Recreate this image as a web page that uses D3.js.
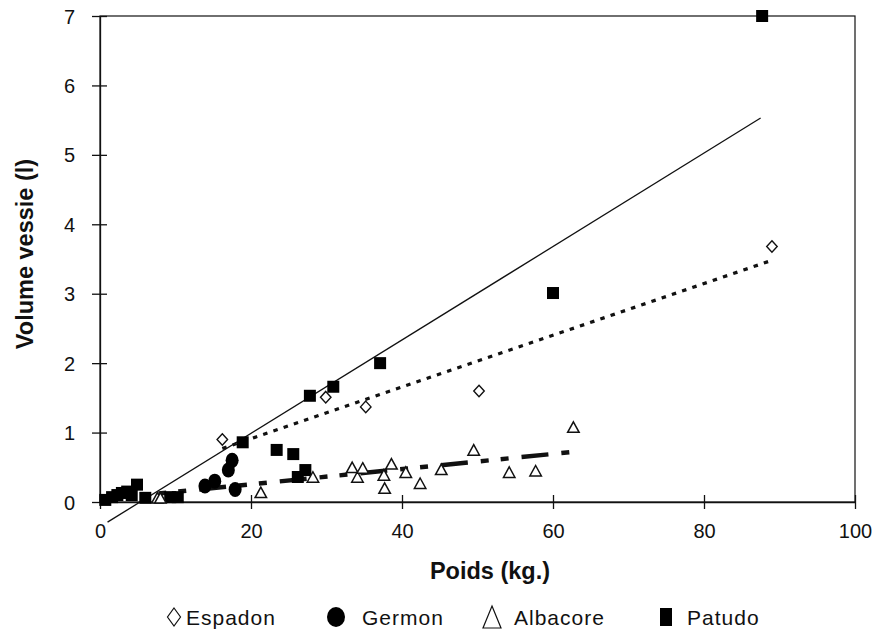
<!DOCTYPE html>
<html>
<head>
<meta charset="utf-8">
<script src="https://cdn.jsdelivr.net/npm/d3@7"></script>
<style>
  html, body { margin: 0; padding: 0; background: #fff; }
  svg { display: block; font-family: "Liberation Sans", Arial, sans-serif; }
</style>
</head>
<body>
<svg id="chart" width="878" height="633"></svg>
<script>
// ---- data ----
const xTicks = [0, 20, 40, 60, 80, 100];
const yTicks = [0, 1, 2, 3, 4, 5, 6, 7];

const espadonX = [16.2, 29.9, 35.2, 50.2, 89.0];
const espadonY = [0.90, 1.51, 1.37, 1.60, 3.68];

const germonX = [13.9, 15.2, 17.0, 17.5, 17.9];
const germonY = [0.23, 0.30, 0.46, 0.60, 0.18];

const albacoreX = [7.6, 8.0, 21.3, 28.2, 33.4, 34.1, 34.8, 37.6, 37.7, 38.6, 40.5, 42.4, 45.2, 49.5, 54.2, 57.7, 62.7];
const albacoreY = [0.06, 0.06, 0.14, 0.36, 0.50, 0.36, 0.49, 0.39, 0.20, 0.55, 0.43, 0.27, 0.47, 0.75, 0.43, 0.45, 1.08];

const patudoX = [0.7, 1.6, 2.3, 2.9, 3.6, 4.2, 4.9, 6.0, 9.3, 10.3, 18.9, 23.4, 25.6, 26.2, 27.2, 27.8, 30.9, 37.1, 60.0, 87.7];
const patudoY = [0.03, 0.07, 0.10, 0.13, 0.15, 0.10, 0.25, 0.06, 0.07, 0.07, 0.86, 0.75, 0.69, 0.36, 0.46, 1.53, 1.66, 2.00, 3.01, 7.00];

// trend lines (end points)
const espadonFitX = [16.2, 88.7];
const espadonFitY = [0.77, 3.47];
const albacoreFitX = [7.6, 62.5];
const albacoreFitY = [0.12, 0.72];
const patudoFitX = [1.0, 87.5];
const patudoFitY = [-0.29, 5.53];

const legendNames = ["Espadon", "Germon", "Albacore", "Patudo"];

// ---- layout ----
const svg = d3.select("#chart");
const L = 100, R = 855, T = 16, B = 502;
const x = d3.scaleLinear().domain([0, 100]).range([L, R]);
const y = d3.scaleLinear().domain([0, 7]).range([B, T]);
const ink = "#111";

// frame (top / right)
svg.append("rect").attr("x", L).attr("y", T).attr("width", R - L).attr("height", B - T)
  .attr("fill", "none").attr("stroke", ink).attr("stroke-width", 1.2);

// x axis
const gx = svg.append("g").attr("transform", `translate(0,${B})`)
  .call(d3.axisBottom(x).tickValues(xTicks).tickSize(0).tickFormat(d3.format("d")));
gx.select(".domain").attr("stroke", ink).attr("stroke-width", 1.3);
gx.selectAll(".tick line").remove();
gx.selectAll(".tick").append("line").attr("y1", -7).attr("y2", 7).attr("stroke", ink).attr("stroke-width", 1.3);
gx.selectAll(".tick text").attr("y", 22).attr("dy", "0.71em").attr("font-size", 20)
  .attr("fill", ink).attr("font-family", "Liberation Sans, Arial, sans-serif");

// y axis
const gy = svg.append("g").attr("transform", `translate(${L},0)`)
  .call(d3.axisLeft(y).tickValues(yTicks).tickSize(0).tickFormat(d3.format("d")));
gy.select(".domain").attr("stroke", ink).attr("stroke-width", 1.3);
gy.selectAll(".tick line").remove();
gy.selectAll(".tick").append("line").attr("x1", -8).attr("x2", 7).attr("stroke", ink).attr("stroke-width", 1.3);
gy.selectAll(".tick text").attr("x", -25).attr("dy", "0.35em").attr("font-size", 20)
  .attr("fill", ink).attr("font-family", "Liberation Sans, Arial, sans-serif");

// axis titles
svg.append("text").attr("transform", "translate(25,254) rotate(-90)")
  .attr("text-anchor", "middle").attr("dominant-baseline", "central")
  .attr("font-size", 23.5).attr("font-weight", "bold").attr("fill", ink).text("Volume vessie (l)");
svg.append("text").attr("x", 490).attr("y", 571)
  .attr("text-anchor", "middle").attr("dominant-baseline", "central")
  .attr("font-size", 23.5).attr("font-weight", "bold").attr("fill", ink).text("Poids (kg.)");

// ---- trend lines ----
const line = d3.line().x(d => x(d[0])).y(d => y(d[1]));
const pairs = (xs, ys) => xs.map((v, i) => [v, ys[i]]);

svg.append("path").datum(pairs(patudoFitX, patudoFitY)).attr("d", line)
  .attr("fill", "none").attr("stroke", ink).attr("stroke-width", 1.3);
svg.append("path").datum(pairs(espadonFitX, espadonFitY)).attr("d", line)
  .attr("fill", "none").attr("stroke", ink).attr("stroke-width", 3.2)
  .attr("stroke-dasharray", "4.5,6.3");
svg.append("path").datum(pairs(albacoreFitX, albacoreFitY)).attr("d", line)
  .attr("fill", "none").attr("stroke", ink).attr("stroke-width", 4.5)
  .attr("stroke-dasharray", "27,13,8,12,8,13").attr("stroke-dashoffset", 39);

// ---- markers ----
// Patudo - filled squares
svg.append("g").selectAll("rect").data(pairs(patudoX, patudoY)).join("rect")
  .attr("x", d => x(d[0]) - 6).attr("y", d => y(d[1]) - 6)
  .attr("width", 12).attr("height", 12).attr("fill", "#000");

// Germon - filled circles
svg.append("g").selectAll("ellipse").data(pairs(germonX, germonY)).join("ellipse")
  .attr("cx", d => x(d[0])).attr("cy", d => y(d[1])).attr("rx", 6.5).attr("ry", 7.5)
  .attr("fill", "#000");

// Albacore - open triangles
const triPath = (w, h) => `M0,${-h / 2}L${w / 2},${h / 2}L${-w / 2},${h / 2}Z`;
svg.append("g").selectAll("path").data(pairs(albacoreX, albacoreY)).join("path")
  .attr("transform", d => `translate(${x(d[0])},${y(d[1])})`)
  .attr("d", triPath(11.5, 10.5)).attr("fill", "#fff").attr("stroke", ink).attr("stroke-width", 1.5);

// Espadon - open diamonds
const diaPath = (w, h) => `M0,${-h / 2}L${w / 2},0L0,${h / 2}L${-w / 2},0Z`;
svg.append("g").selectAll("path").data(pairs(espadonX, espadonY)).join("path")
  .attr("transform", d => `translate(${x(d[0])},${y(d[1])})`)
  .attr("d", diaPath(10.5, 11.5)).attr("fill", "#fff").attr("stroke", ink).attr("stroke-width", 1.4);

// ---- legend ----
const ly = 617;
const legendX = [174, 336, 492, 666];
const textOffset = [12, 26, 22, 21];
const lg = svg.append("g");
legendNames.forEach((name, i) => {
  const cx = legendX[i];
  if (i === 0) {
    lg.append("path").attr("transform", `translate(${cx},${ly})`).attr("d", diaPath(13, 18))
      .attr("fill", "#fff").attr("stroke", ink).attr("stroke-width", 1.2);
  } else if (i === 1) {
    lg.append("ellipse").attr("cx", cx).attr("cy", ly).attr("rx", 9).attr("ry", 10).attr("fill", "#000");
  } else if (i === 2) {
    lg.append("path").attr("transform", `translate(${cx},${ly})`).attr("d", triPath(18, 22))
      .attr("fill", "#fff").attr("stroke", ink).attr("stroke-width", 1.2);
  } else {
    lg.append("rect").attr("x", cx - 6).attr("y", ly - 9).attr("width", 12).attr("height", 18).attr("fill", "#000");
  }
  lg.append("text").attr("x", cx + textOffset[i]).attr("y", ly)
    .attr("dominant-baseline", "central").attr("font-size", 21).attr("fill", ink)
    .attr("letter-spacing", 1).text(name);
});
</script>
</body>
</html>
